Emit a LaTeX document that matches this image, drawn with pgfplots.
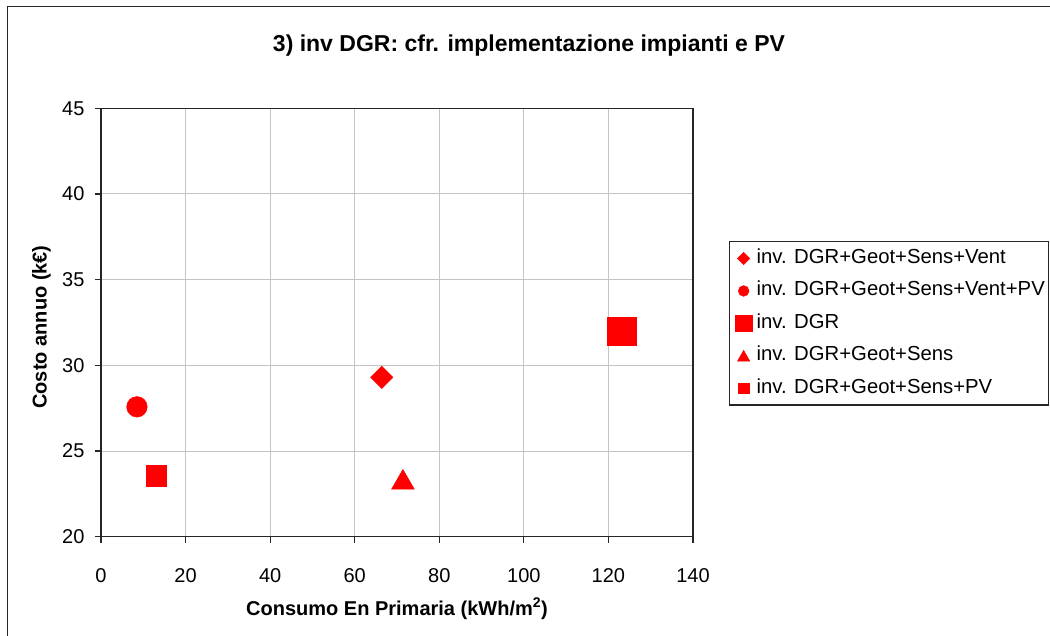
\documentclass[border=0pt]{standalone}
\usepackage{fontspec}
\setmainfont{Liberation Sans}
\usepackage{pgfplots}
\pgfplotsset{compat=1.18}
\begin{document}
\begin{tikzpicture}[x=1pt,y=1pt]
\useasboundingbox (0,0) rectangle (1050,-635);
\clip (0,0) rectangle (1050,-635);
\fill[white] (0,0) rectangle (1050,-635);
\draw[line width=1.5pt, black!85] (7.5,-6.5) rectangle (1051,-660);
\begin{axis}[
  at={(101pt,-536.7pt)}, anchor=south west, scale only axis,
  width=592pt, height=428.4pt,
  xmin=0, xmax=140, ymin=20, ymax=45,
  xtick={0,20,...,140}, ytick={20,25,...,45},
  xtick pos=left, ytick pos=left,
  grid=major, major grid style={color=black!23, line width=1pt},
  axis line style={black!85, line width=1.3pt},
  tick align=outside, major tick length=6pt,
  tick style={black!85, line width=1.1pt},
  ticklabel style={font=\fontsize{20}{20}\selectfont},
  xticklabel style={yshift=-22pt},
  yticklabel style={xshift=-7pt},
  /pgf/number format/assume math mode=true,
  legend cell align=left,
  legend image code/.code={\path[draw=none,fill=none] (0pt,-8pt) rectangle (20pt,8pt);
    \draw[mark repeat=2,mark phase=2,#1] plot coordinates {(0pt,0pt) (10pt,0pt) (20pt,0pt)};},
  legend style={at={(1.0608,0.690)}, anchor=north west, draw=black!85, line width=1.3pt,
    font=\fontsize{20.3}{20.3}\selectfont, inner xsep=4pt, inner ysep=7.8pt,
    row sep=14.4pt, column sep=3pt,
    nodes={inner sep=0pt, text height=14pt, text depth=4pt}},
]
% data
\addplot[only marks, red, mark=square*, mark size=7.9pt, mark options={rotate=45}, forget plot] coordinates {(66.4,29.3)};
\addplot[only marks, red, mark=*, mark size=10.3pt, forget plot] coordinates {(8.5,27.58)};
\addplot[only marks, red, mark=square*, mark size=14.3pt, forget plot] coordinates {(123.1,32.0)};
\addplot[only marks, red, mark=triangle*, mark size=13.2pt, mark options={yshift=-3.3pt}, forget plot] coordinates {(71.4,23.35)};
\addplot[only marks, red, mark=square*, mark size=10.3pt, forget plot] coordinates {(13.1,23.55)};
% legend
\addlegendimage{only marks, red, line width=0.4pt, mark=square*, mark size=4.4pt, mark options={rotate=45}}
\addlegendentry{inv. DGR+Geot+Sens+Vent}
\addlegendimage{only marks, red, line width=0.4pt, mark=*, mark size=5.4pt}
\addlegendentry{inv. DGR+Geot+Sens+Vent+PV}
\addlegendimage{only marks, red, line width=0.4pt, mark=square*, mark size=8.1pt}
\addlegendentry{inv. DGR}
\addlegendimage{only marks, red, line width=0.4pt, mark=triangle*, mark size=7.2pt, mark options={yshift=-1.8pt}}
\addlegendentry{inv. DGR+Geot+Sens}
\addlegendimage{only marks, red, line width=0.4pt, mark=square*, mark size=5.4pt}
\addlegendentry{inv. DGR+Geot+Sens+PV}
\end{axis}
\node[anchor=base, font=\bfseries\fontsize{23}{23}\selectfont] at (529,-51.5) {3) inv DGR: cfr. implementazione impianti e PV};
\node[anchor=base, font=\bfseries\fontsize{20}{20}\selectfont] at (397,-615) {Consumo En Primaria (kWh/m\textsuperscript{2})};
\node[anchor=base, rotate=90, font=\bfseries\fontsize{20}{20}\selectfont] at (46.7,-327) {Costo annuo (k€)};
\end{tikzpicture}
\end{document}
